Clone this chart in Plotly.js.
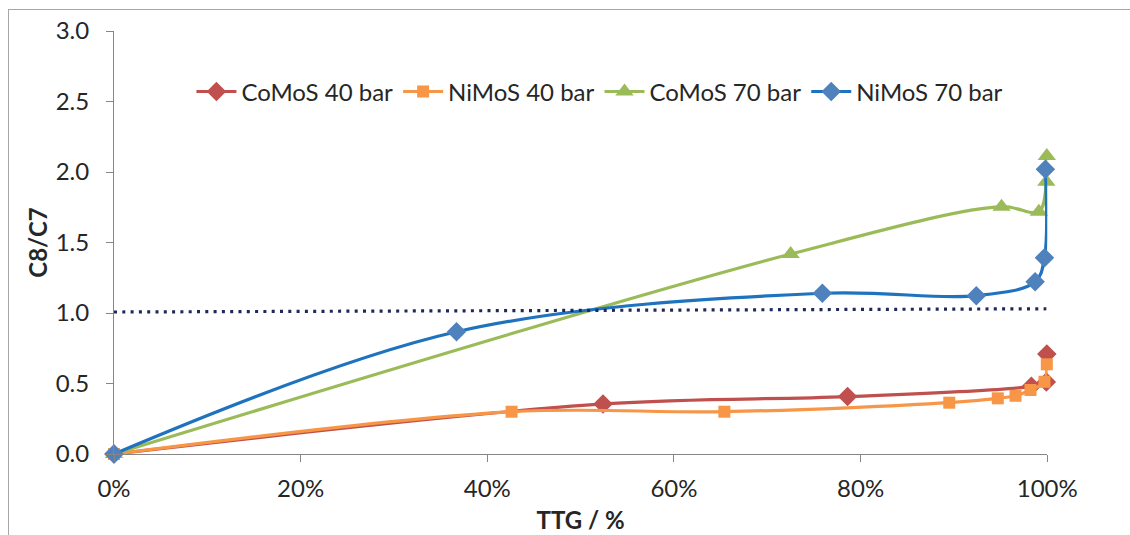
<!DOCTYPE html>
<html>
<head>
<meta charset="utf-8">
<script src="https://cdn.plot.ly/plotly-3.0.1.min.js"></script>
<style>
  html, body { margin: 0; padding: 0; background: #fff; overflow: hidden; }
  #wrap { position: relative; width: 1130px; height: 535px; }
  #chart { position: absolute; left: 0; top: 0; width: 1130px; height: 535px; }
  #frame { position: absolute; left: 8px; top: 9px; width: 1200px; height: 600px;
           border-left: 1px solid #a6a6a6; border-top: 1px solid #a6a6a6; pointer-events: none; }
</style>
</head>
<body>
<div id="wrap">
  <div id="chart"></div>
  <div id="frame"></div>
</div>
<script>
// ---- data ----
const seriesNames = ["CoMoS 40 bar", "NiMoS 40 bar", "CoMoS 70 bar", "NiMoS 70 bar"];

const comos40X = [0, 0.524, 0.786, 0.983, 0.999, 0.9995];
const comos40Y = [0, 0.355, 0.407, 0.48, 0.51, 0.71];

const nimos40X = [0, 0.426, 0.654, 0.895, 0.947, 0.966, 0.982, 0.997, 0.9995];
const nimos40Y = [0, 0.300, 0.300, 0.364, 0.395, 0.413, 0.454, 0.512, 0.636];

const comos70X = [0, 0.725, 0.951, 0.991, 0.999, 0.9995];
const comos70Y = [0, 1.418, 1.754, 1.718, 1.93, 2.113];

const nimos70X = [0, 0.367, 0.759, 0.924, 0.987, 0.997, 0.998];
const nimos70Y = [0, 0.867, 1.14, 1.123, 1.222, 1.392, 2.02];

const refLineX = [0, 1.0105];
const refLineY = [1.007, 1.03];

const xTickVals = [0, 0.2, 0.4, 0.6, 0.8, 1.0];
const xTickText = ["0%", "20%", "40%", "60%", "80%", "100%"];
const yTickVals = [0, 0.5, 1.0, 1.5, 2.0, 2.5, 3.0];
const yTickText = ["0.0", "0.5", "1.0", "1.5", "2.0", "2.5", "3.0"];

// ---- chart ----
const FONT = "Lato, 'Open Sans', sans-serif";
const FS = 24;
const TXT = "#262626";
const xMax = 1.0;
const x2Max = 1.0115;

function series(name, xs, ys, lineColor, markerColor, symbol, msize) {
  return {
    type: "scatter", mode: "lines+markers", name: name,
    x: xs, y: ys,
    line: { color: lineColor, width: 3.2, shape: "spline", smoothing: 1 },
    marker: { color: markerColor, symbol: symbol, size: msize },
    cliponaxis: false
  };
}

const traces = [
  {
    type: "scatter", mode: "lines", x: refLineX, y: refLineY, xaxis: "x2",
    line: { color: "#1f2858", width: 3.2, dash: "3px,5.3px" },
    showlegend: false, hoverinfo: "skip"
  },
  series(seriesNames[0], comos40X, comos40Y, "#c0504d", "#c0504d", "diamond", 15),
  series(seriesNames[1], nimos40X, nimos40Y, "#f79646", "#f79646", "square", 12),
  series(seriesNames[2], comos70X, comos70Y, "#9bbb59", "#9bbb59", "triangle-up", 16),
  series(seriesNames[3], nimos70X, nimos70Y, "#1f73be", "#4f81bd", "diamond", 15)
];

const layout = {
  width: 1130, height: 535,
  margin: { l: 114, r: 72, t: 31, b: 81 },
  paper_bgcolor: "#ffffff", plot_bgcolor: "#ffffff",
  font: { family: FONT, size: FS, color: TXT },
  showlegend: true,
  legend: {
    orientation: "h", x: 0.082, xanchor: "left", y: 0.856, yanchor: "middle",
    font: { family: FONT, size: FS, color: TXT },
    bgcolor: "rgba(0,0,0,0)", itemwidth: 40, traceorder: "normal"
  },
  xaxis: {
    domain: [0, xMax / x2Max],
    range: [0, xMax],
    tickvals: xTickVals, ticktext: xTickText,
    showgrid: false, zeroline: false,
    showline: true, linecolor: "#868686", linewidth: 1,
    ticks: "outside", ticklen: 7, tickcolor: "#868686",
    ticklabelstandoff: 6,
    tickfont: { family: FONT, size: FS, color: TXT },
    title: { text: "<b>TTG / %</b>", font: { family: FONT, size: FS, color: TXT }, standoff: 11 },
    fixedrange: true
  },
  xaxis2: {
    domain: [0, 1], range: [0, x2Max], overlaying: "x", anchor: "y",
    visible: false, fixedrange: true
  },
  yaxis: {
    range: [0, 3],
    tickvals: yTickVals, ticktext: yTickText,
    showgrid: false, zeroline: false,
    showline: true, linecolor: "#868686", linewidth: 1,
    ticks: "outside", ticklen: 7, tickcolor: "#868686",
    ticklabelstandoff: 12,
    tickfont: { family: FONT, size: FS, color: TXT },
    title: { text: "<b>C8/C7</b>", font: { family: FONT, size: FS, color: TXT }, standoff: 1 },
    fixedrange: true
  }
};

Plotly.newPlot("chart", traces, layout, { displayModeBar: false, staticPlot: true });
</script>
</body>
</html>
